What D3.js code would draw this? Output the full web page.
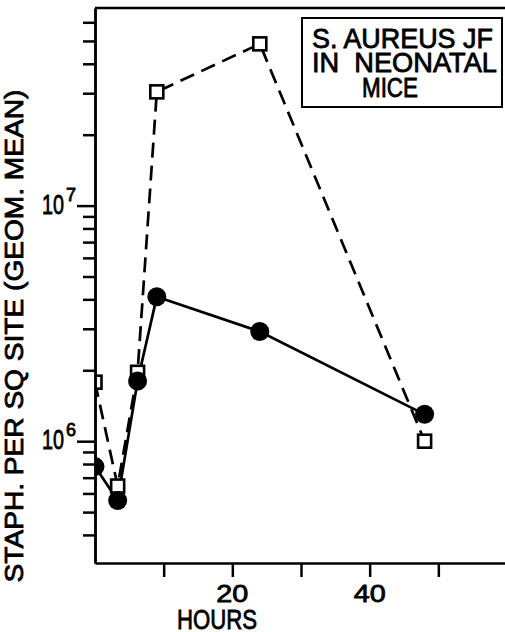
<!DOCTYPE html>
<html>
<head>
<meta charset="utf-8">
<script src="https://cdn.jsdelivr.net/npm/d3@7"></script>
<style>
  body { margin: 0; background: #fff; }
  svg { display: block; font-family: "Liberation Sans", Arial, sans-serif; }
  svg text { fill: #000; stroke: #000; stroke-width: 0.8px; }
</style>
</head>
<body>
<div id="wrapper"></div>
<script>
// data (hours after infection, staph per sq site)
const hours = [0, 3.3, 6.2, 9, 24, 48];
const squareCounts = [1.78e6, 6.45e5, 1.96e6, 3.04e7, 4.86e7, 1.0e6];
const circleCounts = [7.8e5, 5.6e5, 1.8e6, 4.1e6, 2.92e6, 1.3e6];

const xTicks = [10, 20, 30, 40, 50];
const xTickLabels = [20, 40];
const yMajorTicks = [1e6, 1e7];
const yMinorTicks = [
  4e5, 5e5, 6e5, 7e5, 8e5, 9e5,
  2e6, 3e6, 4e6, 5e6, 6e6, 7e6, 8e6, 9e6,
  2e7, 3e7, 4e7, 5e7, 6e7,
];
const legendLines = ["S. AUREUS JF", "IN  NEONATAL", "MICE"];

// squeeze a text horizontally to a given width (the lettering is narrow)
function squeeze(text, x, y, width, extra = "") {
  text.each(function () {
    const natural = this.getComputedTextLength();
    d3.select(this)
      .attr("x", 0)
      .attr("y", 0)
      .attr(
        "transform",
        `translate(${x}, ${y}) ${extra} scale(${width / natural}, 1)`
      );
  });
}

function drawChart() {
  //* Step 1. Chart dimensions
  let dimensions = {
    width: 505,
    height: 632,
    margin: { top: 8, right: 0, bottom: 69, left: 95 },
  };
  dimensions.boundedWidth = 412;
  dimensions.boundedHeight =
    dimensions.height - dimensions.margin.top - dimensions.margin.bottom;

  //* Step 2. Draw canvas
  const wrapper = d3
    .select("#wrapper")
    .append("svg")
    .attr("width", dimensions.width)
    .attr("height", dimensions.height);

  const bounds = wrapper
    .append("g")
    .attr(
      "transform",
      `translate(${dimensions.margin.left}, ${dimensions.margin.top})`
    );

  bounds
    .append("defs")
    .append("clipPath")
    .attr("id", "plot-clip")
    .append("rect")
    .attr("width", dimensions.boundedWidth)
    .attr("height", dimensions.boundedHeight);

  //* Step 3. Scales
  const xScale = d3
    .scaleLinear()
    .domain([0, 60])
    .range([0, dimensions.boundedWidth]);

  const yScale = d3
    .scaleLog()
    .domain([3.04e5, 6.9e7])
    .range([dimensions.boundedHeight, 0]);

  //* Step 4. Draw data
  const plot = bounds.append("g").attr("clip-path", "url(#plot-clip)");
  const lineGenerator = d3
    .line()
    .x((d) => xScale(d[0]))
    .y((d) => yScale(d[1]));

  plot
    .append("path")
    .attr("d", lineGenerator(d3.zip(hours, squareCounts)))
    .attr("fill", "none")
    .attr("stroke", "#000")
    .attr("stroke-width", 2.7)
    .attr("stroke-dasharray", "15,8");

  plot
    .append("path")
    .attr("d", lineGenerator(d3.zip(hours, circleCounts)))
    .attr("fill", "none")
    .attr("stroke", "#000")
    .attr("stroke-width", 2.7);

  const squareSide = 13;
  plot
    .selectAll(".square")
    .data(d3.zip(hours, squareCounts))
    .join("rect")
    .attr("class", "square")
    .attr("x", (d) => xScale(d[0]) - squareSide / 2)
    .attr("y", (d) => yScale(d[1]) - squareSide / 2)
    .attr("width", squareSide)
    .attr("height", squareSide)
    .attr("fill", "#fff")
    .attr("stroke", "#000")
    .attr("stroke-width", 2.6);

  plot
    .selectAll(".dot")
    .data(d3.zip(hours, circleCounts))
    .join("circle")
    .attr("class", "dot")
    .attr("cx", (d) => xScale(d[0]))
    .attr("cy", (d) => yScale(d[1]))
    .attr("r", 9.5)
    .attr("fill", "#000");

  //* Step 5. Peripherals
  // top frame line
  bounds
    .append("line")
    .attr("x1", 0)
    .attr("x2", dimensions.boundedWidth)
    .attr("y1", 0)
    .attr("y2", 0)
    .attr("stroke", "#000")
    .attr("stroke-width", 2.5);

  const styleAxis = (g) => {
    g.selectAll("path, line").attr("stroke", "#000").attr("stroke-width", 2.5);
    g.selectAll("text").remove();
  };

  bounds
    .append("g")
    .call(
      d3.axisLeft(yScale).tickValues(yMinorTicks).tickSize(12).tickSizeOuter(0)
    )
    .call(styleAxis);

  bounds
    .append("g")
    .call(
      d3.axisLeft(yScale).tickValues(yMajorTicks).tickSize(18).tickSizeOuter(0)
    )
    .call(styleAxis);

  // 10^n labels at the decades
  yMajorTicks.forEach((tick) => {
    const y = yScale(tick) + dimensions.margin.top;
    wrapper
      .append("text")
      .style("font-size", "28px")
      .text("10")
      .call(squeeze, 42, y + 8, 22);
    wrapper
      .append("text")
      .attr("x", 66)
      .attr("y", y - 5)
      .style("font-size", "18px")
      .text(Math.round(Math.log10(tick)));
  });

  bounds
    .append("g")
    .attr("transform", `translate(0, ${dimensions.boundedHeight})`)
    .call(d3.axisBottom(xScale).tickValues(xTicks).tickSize(14).tickSizeOuter(0))
    .call(styleAxis);

  xTickLabels.forEach((label) => {
    bounds
      .append("text")
      .attr("text-anchor", "middle")
      .style("font-size", "24px")
      .text(label)
      .call(squeeze, xScale(label), dimensions.boundedHeight + 39, 32);
  });

  wrapper
    .append("text")
    .attr("text-anchor", "middle")
    .style("font-size", "27px")
    .text("HOURS")
    .call(squeeze, 217, 629, 80);

  wrapper
    .append("text")
    .attr("text-anchor", "middle")
    .style("font-size", "26px")
    .text("STAPH. PER SQ SITE (GEOM. MEAN)")
    .call(squeeze, 23, 336, 493, "rotate(-90)");

  //* Step 6. Legend box
  const legend = wrapper.append("g");
  legend
    .append("rect")
    .attr("x", 302)
    .attr("y", 18)
    .attr("width", 200)
    .attr("height", 89)
    .attr("fill", "#fff")
    .attr("stroke", "#000")
    .attr("stroke-width", 2);

  const legendLayout = [
    { x: 312, y: 48, length: 181 },
    { x: 312, y: 72, length: 185 },
    { x: 362, y: 97, length: 56 },
  ];
  legendLines.forEach((line, i) => {
    legend
      .append("text")
      .style("font-size", "27px")
      .style("white-space", "pre")
      .text(line)
      .call(squeeze, legendLayout[i].x, legendLayout[i].y, legendLayout[i].length);
  });
}
drawChart();
</script>
</body>
</html>
